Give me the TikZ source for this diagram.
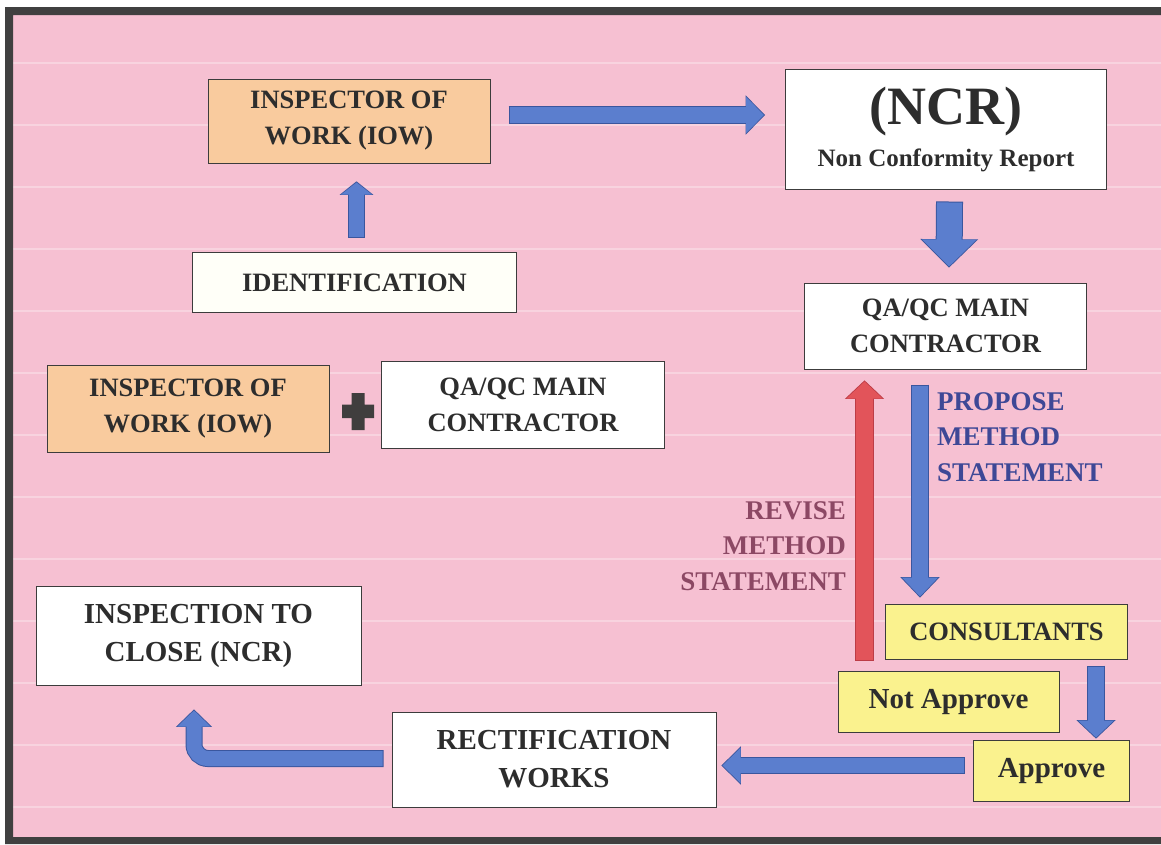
\documentclass[tikz,border=0pt]{standalone}
\usepackage{fontspec}
\setmainfont{Liberation Serif}
\usetikzlibrary{arrows.meta}
\definecolor{pinkbg}{RGB}{246,192,210}
\definecolor{framegray}{RGB}{64,64,64}
\definecolor{boxedge}{RGB}{60,60,60}
\definecolor{txtdark}{RGB}{45,45,45}
\definecolor{orangebox}{RGB}{249,203,158}
\definecolor{yellowbox}{RGB}{250,242,142}
\definecolor{identwhite}{RGB}{255,255,248}
\definecolor{bluefill}{RGB}{91,126,206}
\definecolor{blueedge}{RGB}{58,86,158}
\definecolor{redfill}{RGB}{226,84,90}
\definecolor{rededge}{RGB}{188,60,70}
\definecolor{proptxt}{RGB}{62,72,150}
\definecolor{revtxt}{RGB}{140,72,100}
\definecolor{plusgray}{RGB}{64,62,62}

\begin{document}
\begin{tikzpicture}[x=1pt,y=-1pt,
    box/.style={draw=boxedge,line width=1pt,inner sep=0pt,align=center,text=txtdark,
      font=\bfseries\fontsize{26.5}{36}\selectfont},
    big/.style={font=\bfseries\fontsize{29}{38}\selectfont},
    wh/.style 2 args={minimum width=#1,minimum height=#2},
    lbl/.style={inner sep=0pt,font=\bfseries\fontsize{27}{35.5}\selectfont},
    blk/.style n args={4}{draw=#4fill,line width=#1,line cap=butt,
      -{Triangle[width=#2,length=#3]},
      preaction={draw=#4edge,line width=#1+2pt,shorten <=-1pt,shorten >=-1.2pt,
        -{Triangle[width=#2+3pt,length=#3+1.5pt]}}}]
    \useasboundingbox (0,0) rectangle (1161,844);
    % --- sheet: pink ground, faint ruling, dark frame ---
    \fill[white] (0,0) rectangle (1161,844);
    \fill[pinkbg] (5,7) rectangle (1161,844);
    \foreach \k in {0,...,12}
      \draw[white,opacity=.3,line width=1.5pt] (13,{63+62*\k}) -- (1161,{63+62*\k});
    \fill[framegray] (5,7) rectangle (1161,15) (5,7) rectangle (13,844)
      (5,837) rectangle (1161,844);
    % --- boxes ---
    \node[box,fill=orangebox,wh={282pt}{84pt}] (iowtop) at (349,121) {INSPECTOR OF\\WORK (IOW)};
    \node[box,fill=white,wh={321pt}{120pt},font=\bfseries\fontsize{25}{42}\selectfont]
      (ncr) at (946,129.5) {{\fontsize{54}{42}\selectfont (NCR)}\\Non Conformity Report};
    \node[box,fill=white,wh={282pt}{86pt}] (qatop) at (945.5,326) {QA/QC MAIN\\CONTRACTOR};
    \node[box,fill=identwhite,wh={324pt}{60pt}] (ident) at (354.5,282.5) {IDENTIFICATION};
    \node[box,fill=orangebox,wh={282pt}{87pt}] (iowleft) at (188,409) {INSPECTOR OF\\WORK (IOW)};
    \node[box,fill=white,wh={283pt}{87pt}] (qaleft) at (523,404.5) {QA/QC MAIN\\CONTRACTOR};
    \node[box,fill=yellowbox,wh={242pt}{55pt}] (consult) at (1006.5,631.5) {CONSULTANTS};
    \node[box,big,fill=yellowbox,wh={221pt}{61pt}] (notappr) at (948.5,702) {Not Approve};
    \node[box,big,fill=yellowbox,wh={156pt}{61pt}] (appr) at (1051.5,771) {Approve};
    \node[box,big,fill=white,wh={324pt}{95pt}] (rectif) at (554,759.5) {RECTIFICATION\\WORKS};
    \node[box,big,fill=white,wh={325pt}{99pt}] (closencr) at (198.5,635.5) {INSPECTION TO\\CLOSE (NCR)};
    % the plus between the two parties
    \fill[plusgray] (351.5,393) rectangle (364.5,430) (342,404.5) rectangle (374,418);
    % --- labels beside the loop ---
    \node[lbl,text=proptxt,align=left,anchor=north west] (propose) at (937,392)
      {PROPOSE\\METHOD\\STATEMENT};
    \node[lbl,text=revtxt,align=right,anchor=north east] (revise) at (846,501)
      {REVISE\\METHOD\\STATEMENT};
    % --- block arrows ---
    \draw[blk={16pt}{35pt}{18pt}{blue}] ([shift={(19pt,6pt)}]iowtop.east)
      -- ([shift={(-21pt,14.5pt)}]ncr.west);
    \draw[blk={25pt}{53pt}{27pt}{blue}] ([shift={(3.5pt,-12.5pt)}]ncr.south)
      -- ([shift={(3.5pt,16pt)}]qatop.north);
    \draw[blk={15pt}{30pt}{12pt}{blue}] ([shift={(2pt,15.5pt)}]ident.north)
      -- ([shift={(7.5pt,-19pt)}]iowtop.south);
    \draw[blk={16pt}{35pt}{19pt}{blue}] ([shift={(-25.5pt,-16pt)}]qatop.south)
      -- ([shift={(-86.5pt,7pt)}]consult.north);
    \draw[blk={17pt}{35pt}{17pt}{red}] ([shift={(-84pt,11.5pt)}]notappr.north)
      -- ([shift={(-81pt,-12pt)}]qatop.south);
    \draw[blk={16pt}{35pt}{17pt}{blue}] ([shift={(89.5pt,-7pt)}]consult.south)
      -- ([shift={(44.5pt,2.5pt)}]appr.north);
    \draw[blk={15pt}{34pt}{18pt}{blue}] ([shift={(-9.5pt,5.5pt)}]appr.west)
      -- ([shift={(6pt,-6pt)}]rectif.east);
    \draw[blk={15pt}{32pt}{16pt}{blue},rounded corners=14pt] ([shift={(-9pt,1pt)}]rectif.west)
      -| ([shift={(-4.5pt,-25pt)}]closencr.south);
  \end{tikzpicture}
\end{document}
